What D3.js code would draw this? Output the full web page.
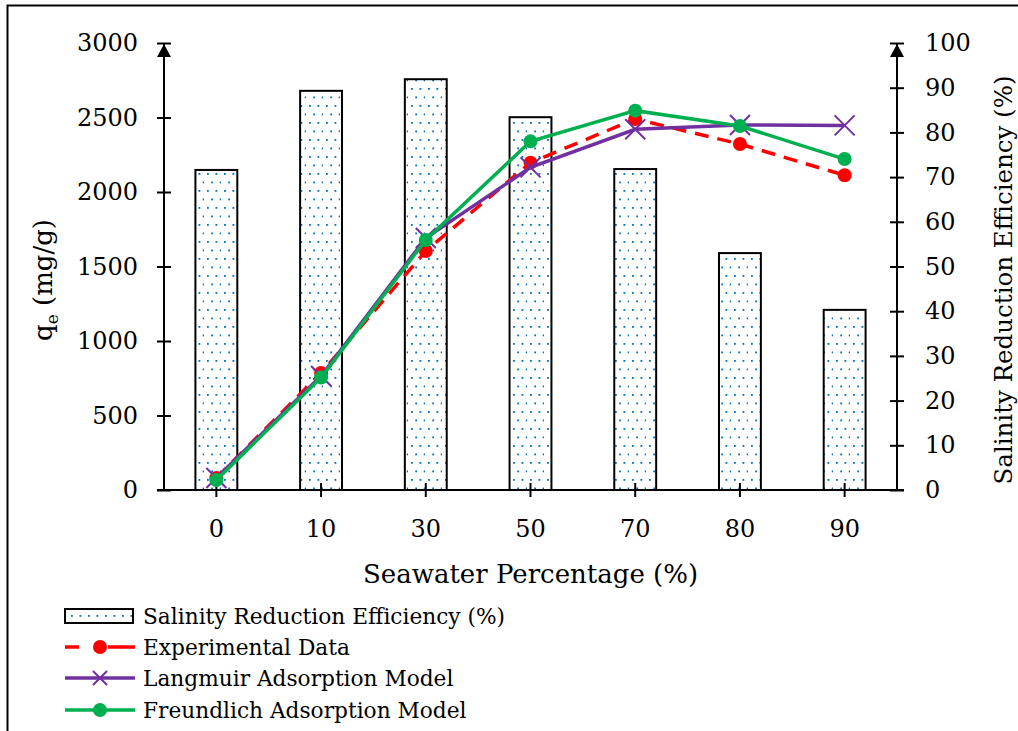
<!DOCTYPE html>
<html><head><meta charset="utf-8">
<script src="https://cdn.jsdelivr.net/npm/d3@7"></script>
<style>body{margin:0;background:#fff}svg{display:block}text{font-family:"DejaVu Serif","Liberation Serif",serif;fill:#000}</style>
</head><body>
<script>
const categories = ["0","10","30","50","70","80","90"];
const efficiency = [71.6, 89.3, 91.9, 83.4, 71.8, 53.0, 40.3];
const experimental = [80, 785, 1604, 2197, 2490, 2322, 2112];
const langmuir = [80, 765, 1691, 2165, 2421, 2450, 2447];
const freundlich = [67, 755, 1678, 2340, 2546, 2443, 2221];
const leftTicks = [0,500,1000,1500,2000,2500,3000];
const rightTicks = [0,10,20,30,40,50,60,70,80,90,100];

const W=1018,H=731;
const svg=d3.select("body").append("svg").attr("width",W).attr("height",H);
const m={l:164,r:897,t:43,b:490};
const x=d3.scaleBand().domain(categories).range([m.l,m.r]).paddingInner(0.6).paddingOuter(0.3);
const xc=d=>x(d)+x.bandwidth()/2;
const yL=d3.scaleLinear().domain([0,3000]).range([m.b,m.t]);
const yR=d3.scaleLinear().domain([0,100]).range([m.b,m.t]);

// frame
svg.append("path").attr("d",`M7.5,${H+5} L7.5,5.5 L${W+5},5.5`).attr("fill","none").attr("stroke","#000").attr("stroke-width",2);

// pattern
const defs=svg.append("defs");
const pat=defs.append("pattern").attr("id","dots").attr("patternUnits","userSpaceOnUse").attr("width",17).attr("height",17);
pat.append("rect").attr("width",17).attr("height",17).attr("fill","#fff");
[[3,3],[11.5,3],[7.25,11.5],[15.75,11.5]].forEach(p=>pat.append("rect").attr("x",p[0]).attr("y",p[1]).attr("width",1.8).attr("height",1.8).attr("fill","#0070C0"));

// bars
svg.selectAll("rect.bar").data(efficiency).enter().append("rect").attr("class","bar")
  .attr("x",(d,i)=>x(categories[i])).attr("width",x.bandwidth())
  .attr("y",d=>yR(d)).attr("height",d=>yR(0)-yR(d))
  .attr("fill","url(#dots)").attr("stroke","#000").attr("stroke-width",2);

// axes
const tk=7, fs="24px";
const gL=svg.append("g").attr("transform",`translate(${m.l},0)`).call(d3.axisLeft(yL).tickValues(leftTicks).tickFormat(d3.format("d")).tickSize(0).tickPadding(26));
gL.select(".domain").remove();
gL.selectAll(".tick line").attr("x1",-tk).attr("x2",tk).attr("stroke-width",2);
gL.selectAll("text").style("font-size",fs);
svg.append("line").attr("x1",m.l).attr("x2",m.l).attr("y1",m.b+1).attr("y2",m.t).attr("stroke","#000").attr("stroke-width",2);

const gR=svg.append("g").attr("transform",`translate(${m.r},0)`).call(d3.axisRight(yR).tickValues(rightTicks).tickFormat(d3.format("d")).tickSize(0).tickPadding(28));
gR.select(".domain").remove();
gR.selectAll(".tick line").attr("x1",-tk).attr("x2",tk).attr("stroke-width",2);
gR.selectAll("text").style("font-size",fs);
svg.append("line").attr("x1",m.r).attr("x2",m.r).attr("y1",m.b+1).attr("y2",m.t).attr("stroke","#000").attr("stroke-width",2);

// arrows
[m.l,m.r].forEach(ax=>svg.append("path").attr("d",`M${ax-7},${m.t+14} L${ax},${m.t+1} L${ax+7},${m.t+14} Z`).attr("fill","#000"));

const gX=svg.append("g").attr("transform",`translate(0,${m.b})`).call(d3.axisBottom(x).tickSize(0).tickPadding(30));
gX.select(".domain").remove();
gX.selectAll(".tick line").attr("y1",-tk).attr("y2",tk).attr("stroke-width",2);
gX.selectAll("text").style("font-size",fs);
svg.append("line").attr("x1",m.l-tk).attr("x2",m.r+tk).attr("y1",m.b).attr("y2",m.b).attr("stroke","#000").attr("stroke-width",2);

// titles
svg.append("text").attr("x",(m.l+m.r)/2).attr("y",583).attr("text-anchor","middle").style("font-size","26px").text("Seawater Percentage (%)");
const tl=svg.append("text").attr("transform","translate(52,280) rotate(-90)").attr("text-anchor","middle").style("font-size","26px");
tl.append("tspan").text("q");
tl.append("tspan").attr("dy",6).style("font-size","17px").text("e");
tl.append("tspan").attr("dy",-6).text(" (mg/g)");
svg.append("text").attr("transform","translate(1012,280) rotate(-90)").attr("text-anchor","middle").style("font-size","24.5px").text("Salinity Reduction Efficiency (%)");

// lines
const series=[
 {name:"Experimental Data",vals:experimental,color:"#FF0000",dash:"14,9",marker:"circle"},
 {name:"Langmuir Adsorption Model",vals:langmuir,color:"#7030A0",dash:null,marker:"x"},
 {name:"Freundlich Adsorption Model",vals:freundlich,color:"#00B050",dash:null,marker:"circle"}
];
const line=d3.line().x((d,i)=>xc(categories[i])).y(d=>yL(d));
function marker(g,s,cx,cy,sz){
  sz=sz||10;
  if(s.marker==="circle") g.append("circle").attr("cx",cx).attr("cy",cy).attr("r",7).attr("fill",s.color);
  else g.append("path").attr("d",`M${cx-sz},${cy-sz}L${cx+sz},${cy+sz}M${cx-sz},${cy+sz}L${cx+sz},${cy-sz}`).attr("stroke",s.color).attr("stroke-width",2);
}
series.forEach(s=>{
  const g=svg.append("g");
  g.append("path").attr("d",line(s.vals)).attr("fill","none").attr("stroke",s.color).attr("stroke-width",3.5).attr("stroke-dasharray",s.dash);
  s.vals.forEach((v,i)=>marker(g,s,xc(categories[i]),yL(v)));
});

// legend
const lx=65, rows=[616,647,678,710], lfs="21.7px";
const lg=svg.append("g");
lg.append("rect").attr("x",lx).attr("y",rows[0]-7).attr("width",68).attr("height",14).attr("fill","url(#dots)").attr("stroke","#000").attr("stroke-width",2);
lg.append("text").attr("x",143).attr("y",rows[0]).attr("dy","0.35em").style("font-size",lfs).text("Salinity Reduction Efficiency (%)");
series.forEach((s,k)=>{
  const y=rows[k+1];
  lg.append("line").attr("x1",lx).attr("x2",lx+70).attr("y1",y).attr("y2",y).attr("stroke",s.color).attr("stroke-width",3.5).attr("stroke-dasharray",s.dash?"14,29":null);
  if(s.dash){lg.append("line").attr("x1",lx+56).attr("x2",lx+70).attr("y1",y).attr("y2",y).attr("stroke",s.color).attr("stroke-width",3.5);}
  marker(lg,s,lx+35,y,7);
  lg.append("text").attr("x",143).attr("y",y).attr("dy","0.35em").style("font-size",lfs).text(s.name);
});
</script>
</body></html>
